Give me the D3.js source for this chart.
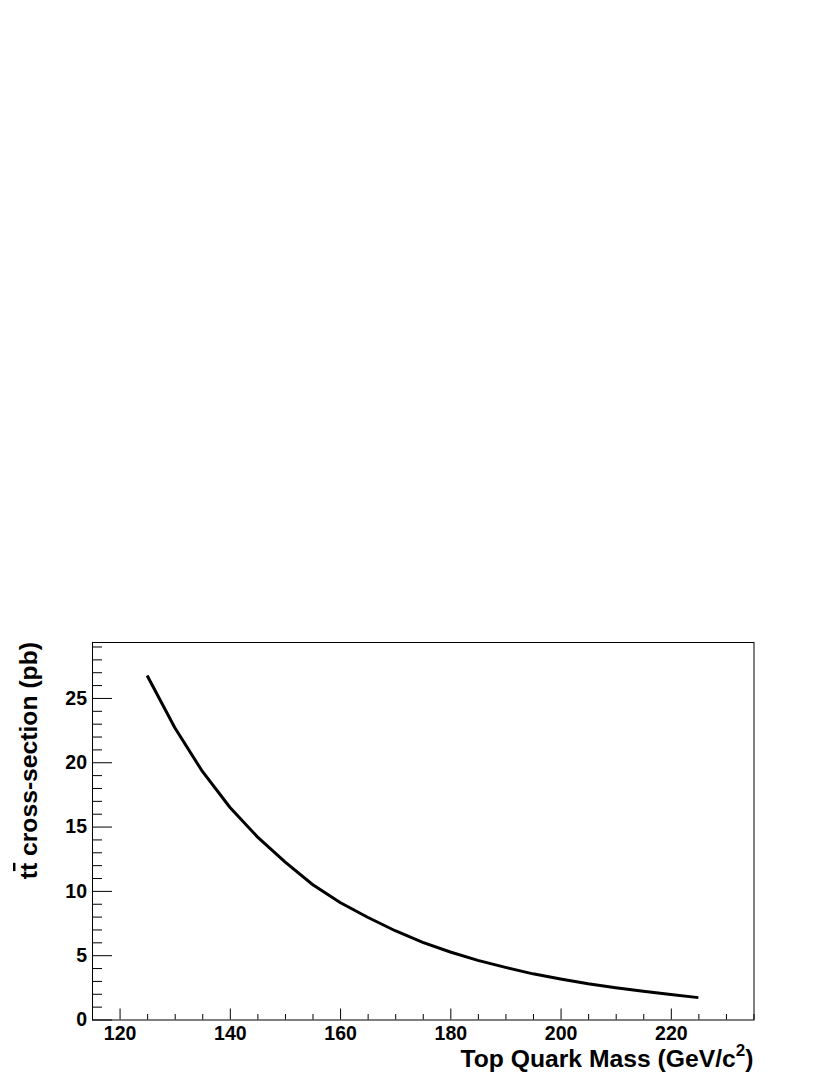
<!DOCTYPE html>
<html>
<head>
<meta charset="utf-8">
<script src="https://cdn.jsdelivr.net/npm/d3@7"></script>
<style>
  body { margin: 0; background: #fff; }
  svg text { font-family: "Liberation Sans", Arial, Helvetica, sans-serif; font-weight: bold; }
</style>
</head>
<body>
<svg id="chart" width="830" height="1075"></svg>
<script>
// top quark mass (GeV/c^2) and ttbar cross-section (pb)
const masses = [125, 130, 135, 140, 145, 150, 155, 160, 165, 170, 175, 180, 185, 190, 195, 200, 205, 210, 215, 220, 225];
const xsec = [26.75, 22.7, 19.3, 16.5, 14.2, 12.25, 10.5, 9.1, 7.95, 6.9, 6.0, 5.25, 4.6, 4.05, 3.55, 3.15, 2.78, 2.47, 2.2, 1.95, 1.7];

const xMajor = [120, 140, 160, 180, 200, 220];
const xMinor = [125, 130, 135, 145, 150, 155, 165, 170, 175, 185, 190, 195, 205, 210, 215, 225, 230, 235];
const yMajor = [0, 5, 10, 15, 20, 25];
const yMinor = [1, 2, 3, 4, 6, 7, 8, 9, 11, 12, 13, 14, 16, 17, 18, 19, 21, 22, 23, 24, 26, 27, 28, 29];

const xTitle = "Top Quark Mass (GeV/c";
const yTitle = " cross-section (pb)";

const margin = { top: 642, left: 92 };
const width = 661.5;
const height = 377.5;

const svg = d3.select("#chart");
const g = svg.append("g")
  .attr("transform", "translate(" + margin.left + "," + margin.top + ")");

const xScale = d3.scaleLinear().domain([115, 235]).range([0, width]);
const yScale = d3.scaleLinear().domain([0, 29.35]).range([height, 0]);

// minor ticks first, then major with labels
g.append("g")
  .attr("transform", "translate(0," + height + ")")
  .call(d3.axisBottom(xScale).tickValues(xMinor).tickSize(-5.5).tickFormat(""));

g.append("g")
  .attr("class", "x-axis")
  .attr("transform", "translate(0," + height + ")")
  .call(d3.axisBottom(xScale).tickValues(xMajor).tickSize(-11).tickPadding(7).tickFormat(d3.format("d")));

g.append("g")
  .call(d3.axisLeft(yScale).tickValues(yMinor).tickSize(-10).tickFormat(""));

g.append("g")
  .attr("class", "y-axis")
  .call(d3.axisLeft(yScale).tickValues(yMajor).tickSize(-20).tickPadding(5).tickFormat(d3.format("d")));

g.selectAll(".domain").remove();
g.selectAll(".tick line").attr("stroke", "#000").attr("stroke-width", 1);
g.selectAll(".tick text").attr("fill", "#000").style("font-size", "19.5px");

// frame
g.append("rect")
  .attr("x", 0.5)
  .attr("y", 0.5)
  .attr("width", width)
  .attr("height", height)
  .attr("fill", "none")
  .attr("stroke", "#000")
  .attr("stroke-width", 1);

// curve
const line = d3.line()
  .x((d, i) => xScale(masses[i]))
  .y(d => yScale(d));

g.append("path")
  .datum(xsec)
  .attr("d", line)
  .attr("fill", "none")
  .attr("stroke", "#000")
  .attr("stroke-width", 3);

// x title
const xt = svg.append("text")
  .attr("x", margin.left + width)
  .attr("y", 1067)
  .attr("text-anchor", "end")
  .style("font-size", "24.7px")
  .text(xTitle);
xt.append("tspan").attr("dy", -11).style("font-size", "17px").text("2");
xt.append("tspan").attr("dy", 11).text(")");

// y title
const yt = svg.append("text")
  .attr("transform", "translate(37," + margin.top + ") rotate(-90)")
  .attr("text-anchor", "end")
  .style("font-size", "24.7px");
yt.append("tspan").text("t");
yt.append("tspan").style("text-decoration", "overline").text("t");
yt.append("tspan").text(yTitle);
</script>
</body>
</html>
